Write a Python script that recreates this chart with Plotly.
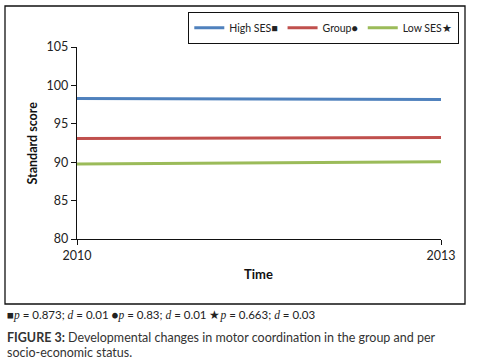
import plotly.graph_objects as go

years = [2010, 2013]
high_ses = [98.3, 98.15]
group = [93.1, 93.2]
low_ses = [89.75, 90.05]
series_names = ["High SES■", "Group●", "Low SES★"]
colors = ["#4F81BD", "#C0504D", "#9BBB59"]
y_ticks = [80, 85, 90, 95, 100, 105]
x_ticks = [2010, 2013]

W, H = 478, 362
L, R, T, B = 77, 441, 47, 239

fig = go.Figure()
for name, vals, c in zip(series_names, [high_ses, group, low_ses], colors):
    fig.add_trace(go.Scatter(x=years, y=vals, mode="lines", name=name,
                             line=dict(color=c, width=3)))

def px(x):
    return (x - L) / (R - L)

def py(y):
    return (B - y) / (B - T)

font = "Lato, Carlito, 'Liberation Sans', sans-serif"
fig.update_layout(
    width=W, height=H,
    margin=dict(l=L, r=W - R, t=T, b=H - B),
    paper_bgcolor="white", plot_bgcolor="white",
    font=dict(family=font, size=12, color="#222"),
    showlegend=True,
    legend=dict(orientation="h", x=px(459), xanchor="right", y=py(12), yanchor="top",
                bordercolor="#111", borderwidth=1.3, bgcolor="white",
                font=dict(size=10.5, color="#222"), itemwidth=30,
                tracegroupgap=0),
    xaxis=dict(range=[2010, 2013], tickvals=x_ticks, ticktext=[str(v) for v in x_ticks],
               showgrid=False, zeroline=False, showline=True, linecolor="#111", linewidth=1.3,
               ticks="outside", ticklen=5, tickcolor="#111", tickfont=dict(size=12.5)),
    yaxis=dict(range=[80, 105], tickvals=y_ticks, showgrid=False, zeroline=False,
               showline=True, linecolor="#111", linewidth=1.3,
               ticks="outside", ticklen=5, tickcolor="#111", tickfont=dict(size=12.5)),
)

fig.add_shape(type="rect", xref="paper", yref="paper",
              x0=px(5), x1=px(465), y0=py(304), y1=py(6),
              line=dict(color="#111", width=1.3), fillcolor="rgba(0,0,0,0)", layer="below")

fig.add_annotation(text="<b>Standard score</b>", xref="paper", yref="paper",
                   x=px(22), y=py(143), textangle=-90, showarrow=False,
                   font=dict(size=12.5, color="#111"))
fig.add_annotation(text="<b>Time</b>", xref="paper", yref="paper",
                   x=px(258), y=py(284), showarrow=False,
                   font=dict(size=13, color="#111"))

it = lambda s: '<span style="font-family:Liberation Serif"><i>' + s + '</i></span>'
foot = ("■" + it("p") + " = 0.873; " + it("d") + " = 0.01 ●" + it("p") + " = 0.83; "
        + it("d") + " = 0.01 ★" + it("p") + " = 0.663; " + it("d") + " = 0.03")
fig.add_annotation(text=foot, xref="paper", yref="paper", x=px(5), y=py(315),
                   xanchor="left", yanchor="middle", showarrow=False,
                   font=dict(size=11.5, color="#222"))
fig.add_annotation(text="<b>FIGURE 3:</b> Developmental changes in motor coordination in the group and per",
                   xref="paper", yref="paper", x=px(5), y=py(337),
                   xanchor="left", yanchor="middle", showarrow=False,
                   font=dict(size=12.5, color="#333"))
fig.add_annotation(text="socio-economic status.",
                   xref="paper", yref="paper", x=px(5), y=py(352),
                   xanchor="left", yanchor="middle", showarrow=False,
                   font=dict(size=12.5, color="#333"))

fig.write_html("out.html", config={"displayModeBar": False},
               post_script="document.body.style.margin='0';document.body.style.overflow='hidden';")
